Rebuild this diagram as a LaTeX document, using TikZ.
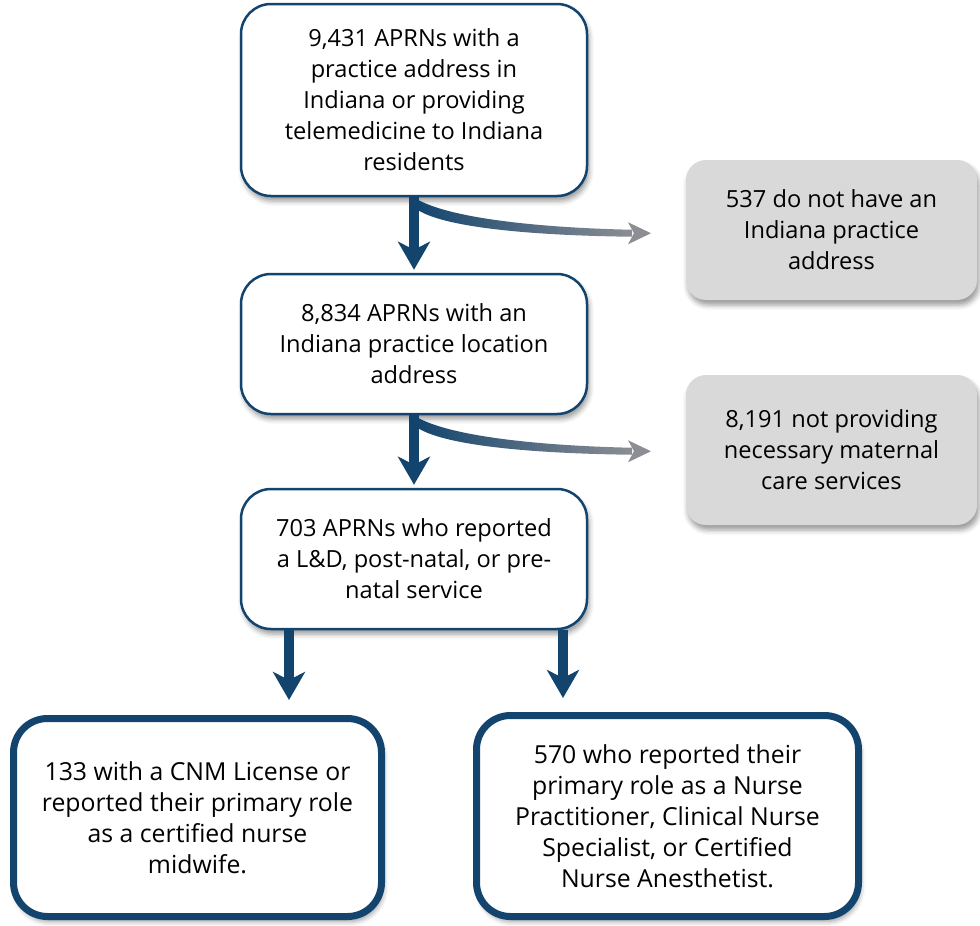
\documentclass[tikz,border=0pt]{standalone}
\usepackage{fontspec}
\setmainfont{Open Sans}
\usetikzlibrary{arrows.meta,calc,shadows.blur}
\definecolor{navy}{RGB}{18,68,110}
\definecolor{arrgray}{RGB}{140,142,148}
\definecolor{boxgray}{RGB}{217,217,217}
\begin{document}
\begin{tikzpicture}[x=1pt,y=1pt,
  every node/.style={font=\fontsize{23.6}{31}\selectfont, align=center, inner sep=0pt},
  mainbox/.style={draw=navy, line width=2.5pt, fill=white, rounded corners=30pt,
    blur shadow={shadow xshift=2pt, shadow yshift=-5pt, shadow blur radius=5pt}},
  bigbox/.style={draw=navy, line width=7pt, fill=white, rounded corners=34pt,
    font=\fontsize{24.8}{31}\selectfont,
    blur shadow={shadow xshift=2pt, shadow yshift=-5pt, shadow blur radius=5pt}},
  graybox/.style={fill=boxgray, rounded corners=20pt,
    blur shadow={shadow xshift=2pt, shadow yshift=-5pt, shadow blur radius=5pt}},
  downarrow/.style={navy, line width=10pt, -{Stealth[length=28pt,width=32pt,inset=8pt]}},
]
\useasboundingbox (0,0) rectangle (980,-926);

\node[mainbox, minimum width=346pt, minimum height=192pt] (b1) at (414,-100)
  {9,431 APRNs with a\\practice address in\\Indiana or providing\\telemedicine to Indiana\\residents};
\node[graybox, minimum width=291pt, minimum height=140pt] (g1) at (831.5,-230)
  {537 do not have an\\Indiana practice\\address};
\node[mainbox, minimum width=346pt, minimum height=140pt] (b2) at (414,-344)
  {8,834 APRNs with an\\Indiana practice location\\address};
\node[graybox, minimum width=291pt, minimum height=150pt] (g2) at (831.5,-450)
  {8,191 not providing\\necessary maternal\\care services};
\node[mainbox, minimum width=346pt, minimum height=140pt] (b3) at (414,-559)
  {703 APRNs who reported\\a L\&D, post-natal, or pre-\\natal service};
\node[bigbox, minimum width=368pt, minimum height=198pt] (b4) at (197.5,-817.5)
  {133 with a CNM License or\\reported their primary role\\as a certified nurse\\midwife.};
\node[bigbox, minimum width=382pt, minimum height=201pt] (b5) at (667.5,-816)
  {570 who reported their\\primary role as a Nurse\\Practitioner, Clinical Nurse\\Specialist, or Certified\\Nurse Anesthetist.};

% curved side arrows
\foreach \src in {b1,b2}{
  \begin{scope}[shift={(\src.south)}]
    \shade[left color=navy, right color=arrgray]
      (0,0) .. controls (26,-18) and (106,-30) .. (218,-32.5) -- (218,-39.5)
      .. controls (101,-38) and (21,-28) .. (0,-10) -- cycle;
    \fill[arrgray] (214,-25) -- (237,-36) -- (214,-47) -- (220,-36) -- cycle;
  \end{scope}
}

% vertical arrows
\draw[downarrow, shorten >=3pt] (b1.south) -- (b2.north);
\draw[downarrow, shorten >=3pt] (b2.south) -- (b3.north);
\draw[downarrow] ([xshift=-125pt]b3.south) -- ([xshift=-125pt,yshift=15pt]b3.south |- b4.north);
\draw[downarrow] ([xshift=149pt]b3.south) -- ([xshift=149pt,yshift=14pt]b3.south |- b5.north);
\end{tikzpicture}
\end{document}
